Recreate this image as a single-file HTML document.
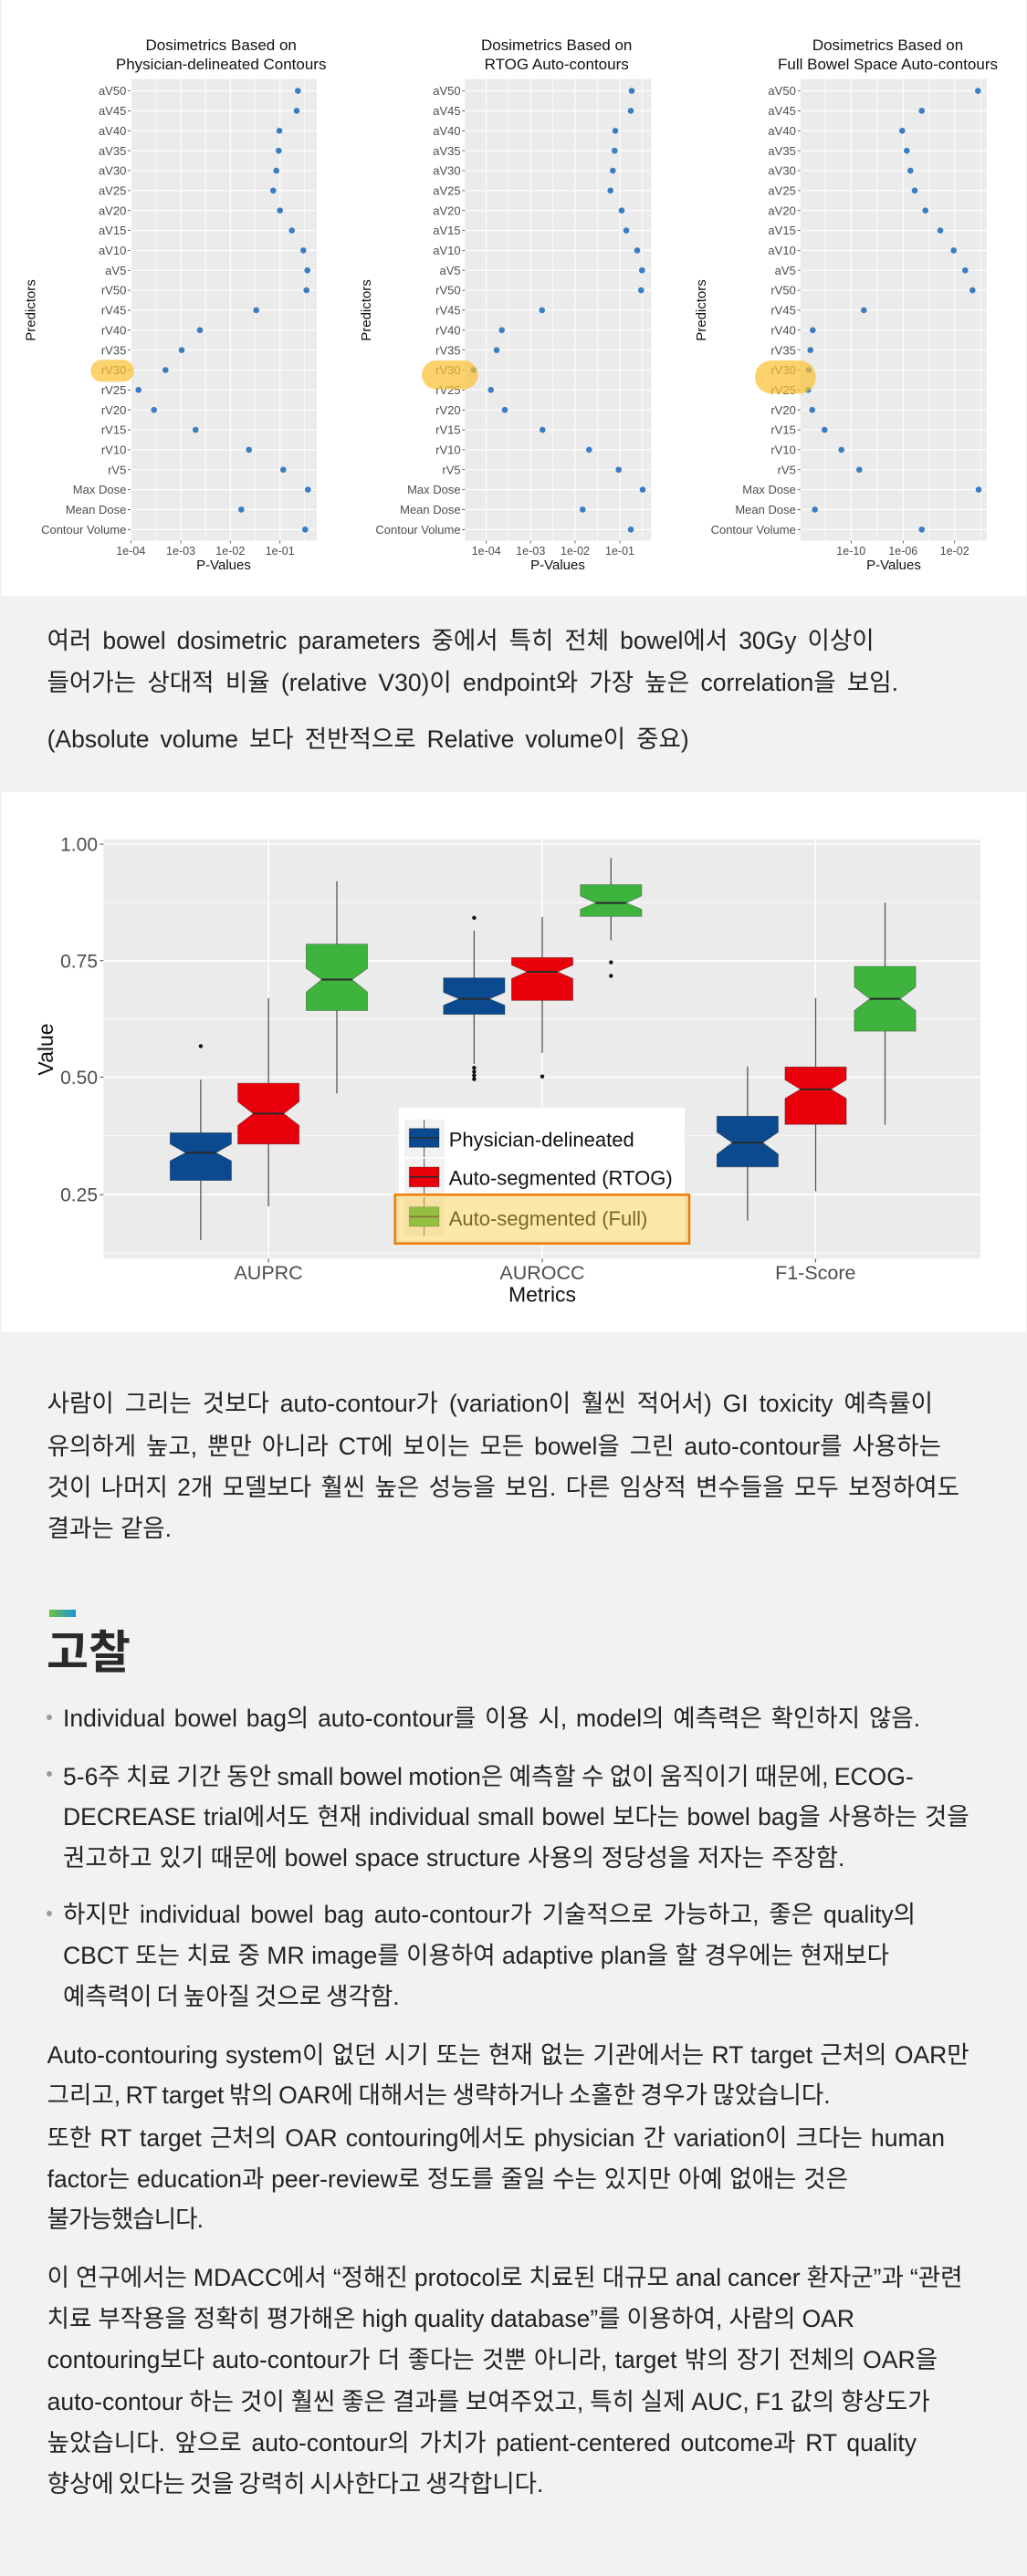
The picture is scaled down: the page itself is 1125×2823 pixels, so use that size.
<!DOCTYPE html>
<html><head><meta charset="utf-8"><style>
html,body{margin:0;padding:0}
body{width:1125px;height:2823px;background:#f2f2f2;position:relative;overflow:hidden;font-family:"Liberation Sans","Noto Sans CJK KR",sans-serif;color:#222}
.w{position:absolute;left:2px;width:1122px;background:#fff}
.ln{position:absolute;left:51.6px;height:30px;line-height:30px;font-size:26.5px;white-space:nowrap}
.ln span{word-spacing:0px}
.b{left:69px}
.dot{position:absolute;left:51.3px;width:6px;height:6px;border-radius:50%;background:#9a9a9a}
svg text{font-family:"Liberation Sans",Arial,sans-serif}
</style></head><body>
<div class="w" style="top:0;height:653px"></div>
<div class="w" style="top:868px;height:592px"></div>

<svg style="position:absolute;left:0;top:0" width="1125" height="1460" viewBox="0 0 1125 1460">
<g transform="translate(143,0)">
<rect x="0" y="86.5" width="204" height="506" fill="#ebebeb"/>
<path d="M27.7 86.5V592.5M82 86.5V592.5M136.3 86.5V592.5M190.3 86.5V592.5" stroke="#fff" stroke-width="0.6"/>
<path d="M0.3 86.5V592.5M55 86.5V592.5M109.3 86.5V592.5M163.7 86.5V592.5" stroke="#fff" stroke-width="1.1"/>
<path d="M0 99.6H204M0 121.45H204M0 143.3H204M0 165.15H204M0 187H204M0 208.85H204M0 230.7H204M0 252.55H204M0 274.4H204M0 296.25H204M0 318.1H204M0 339.95H204M0 361.8H204M0 383.65H204M0 405.5H204M0 427.35H204M0 449.2H204M0 471.05H204M0 492.9H204M0 514.75H204M0 536.6H204M0 558.45H204M0 580.3H204" stroke="#fff" stroke-width="1.1"/>
<path d="M-3 99.6H0M-3 121.45H0M-3 143.3H0M-3 165.15H0M-3 187H0M-3 208.85H0M-3 230.7H0M-3 252.55H0M-3 274.4H0M-3 296.25H0M-3 318.1H0M-3 339.95H0M-3 361.8H0M-3 383.65H0M-3 405.5H0M-3 427.35H0M-3 449.2H0M-3 471.05H0M-3 492.9H0M-3 514.75H0M-3 536.6H0M-3 558.45H0M-3 580.3H0M0.3 592.5V595.5M55 592.5V595.5M109.3 592.5V595.5M163.7 592.5V595.5" stroke="#444" stroke-width="0.8"/>
<text font-size="13" fill="#4d4d4d" text-anchor="end"><tspan x="-4.7" y="104.2">aV50</tspan><tspan x="-4.7" y="126.05">aV45</tspan><tspan x="-4.7" y="147.9">aV40</tspan><tspan x="-4.7" y="169.75">aV35</tspan><tspan x="-4.7" y="191.6">aV30</tspan><tspan x="-4.7" y="213.45">aV25</tspan><tspan x="-4.7" y="235.3">aV20</tspan><tspan x="-4.7" y="257.15">aV15</tspan><tspan x="-4.7" y="279">aV10</tspan><tspan x="-4.7" y="300.85">aV5</tspan><tspan x="-4.7" y="322.7">rV50</tspan><tspan x="-4.7" y="344.55">rV45</tspan><tspan x="-4.7" y="366.4">rV40</tspan><tspan x="-4.7" y="388.25">rV35</tspan><tspan x="-4.7" y="410.1">rV30</tspan><tspan x="-4.7" y="431.95">rV25</tspan><tspan x="-4.7" y="453.8">rV20</tspan><tspan x="-4.7" y="475.65">rV15</tspan><tspan x="-4.7" y="497.5">rV10</tspan><tspan x="-4.7" y="519.35">rV5</tspan><tspan x="-4.7" y="541.2">Max Dose</tspan><tspan x="-4.7" y="563.05">Mean Dose</tspan><tspan x="-4.7" y="584.9">Contour Volume</tspan></text>
<text font-size="12.5" fill="#4d4d4d" text-anchor="middle"><tspan x="0.3" y="607.8">1e-04</tspan><tspan x="55" y="607.8">1e-03</tspan><tspan x="109.3" y="607.8">1e-02</tspan><tspan x="163.7" y="607.8">1e-01</tspan></text>
</g>

<g transform="translate(509.3,0)">
<rect x="0" y="86.5" width="204" height="506" fill="#ebebeb"/>
<path d="M47.7 86.5V592.5M96.4 86.5V592.5M145.1 86.5V592.5M194.1 86.5V592.5" stroke="#fff" stroke-width="0.6"/>
<path d="M23.4 86.5V592.5M72 86.5V592.5M120.7 86.5V592.5M169.7 86.5V592.5" stroke="#fff" stroke-width="1.1"/>
<path d="M0 99.6H204M0 121.45H204M0 143.3H204M0 165.15H204M0 187H204M0 208.85H204M0 230.7H204M0 252.55H204M0 274.4H204M0 296.25H204M0 318.1H204M0 339.95H204M0 361.8H204M0 383.65H204M0 405.5H204M0 427.35H204M0 449.2H204M0 471.05H204M0 492.9H204M0 514.75H204M0 536.6H204M0 558.45H204M0 580.3H204" stroke="#fff" stroke-width="1.1"/>
<path d="M-3 99.6H0M-3 121.45H0M-3 143.3H0M-3 165.15H0M-3 187H0M-3 208.85H0M-3 230.7H0M-3 252.55H0M-3 274.4H0M-3 296.25H0M-3 318.1H0M-3 339.95H0M-3 361.8H0M-3 383.65H0M-3 405.5H0M-3 427.35H0M-3 449.2H0M-3 471.05H0M-3 492.9H0M-3 514.75H0M-3 536.6H0M-3 558.45H0M-3 580.3H0M23.4 592.5V595.5M72 592.5V595.5M120.7 592.5V595.5M169.7 592.5V595.5" stroke="#444" stroke-width="0.8"/>
<text font-size="13" fill="#4d4d4d" text-anchor="end"><tspan x="-4.7" y="104.2">aV50</tspan><tspan x="-4.7" y="126.05">aV45</tspan><tspan x="-4.7" y="147.9">aV40</tspan><tspan x="-4.7" y="169.75">aV35</tspan><tspan x="-4.7" y="191.6">aV30</tspan><tspan x="-4.7" y="213.45">aV25</tspan><tspan x="-4.7" y="235.3">aV20</tspan><tspan x="-4.7" y="257.15">aV15</tspan><tspan x="-4.7" y="279">aV10</tspan><tspan x="-4.7" y="300.85">aV5</tspan><tspan x="-4.7" y="322.7">rV50</tspan><tspan x="-4.7" y="344.55">rV45</tspan><tspan x="-4.7" y="366.4">rV40</tspan><tspan x="-4.7" y="388.25">rV35</tspan><tspan x="-4.7" y="410.1">rV30</tspan><tspan x="-4.7" y="431.95">rV25</tspan><tspan x="-4.7" y="453.8">rV20</tspan><tspan x="-4.7" y="475.65">rV15</tspan><tspan x="-4.7" y="497.5">rV10</tspan><tspan x="-4.7" y="519.35">rV5</tspan><tspan x="-4.7" y="541.2">Max Dose</tspan><tspan x="-4.7" y="563.05">Mean Dose</tspan><tspan x="-4.7" y="584.9">Contour Volume</tspan></text>
<text font-size="12.5" fill="#4d4d4d" text-anchor="middle"><tspan x="23.4" y="607.8">1e-04</tspan><tspan x="72" y="607.8">1e-03</tspan><tspan x="120.7" y="607.8">1e-02</tspan><tspan x="169.7" y="607.8">1e-01</tspan></text>
</g>

<g transform="translate(876.7,0)">
<rect x="0" y="86.5" width="204.3" height="506" fill="#ebebeb"/>
<path d="M27.3 86.5V592.5M84.3 86.5V592.5M141 86.5V592.5M197.6 86.5V592.5" stroke="#fff" stroke-width="0.6"/>
<path d="M55.6 86.5V592.5M112.6 86.5V592.5M169 86.5V592.5" stroke="#fff" stroke-width="1.1"/>
<path d="M0 99.6H204M0 121.45H204M0 143.3H204M0 165.15H204M0 187H204M0 208.85H204M0 230.7H204M0 252.55H204M0 274.4H204M0 296.25H204M0 318.1H204M0 339.95H204M0 361.8H204M0 383.65H204M0 405.5H204M0 427.35H204M0 449.2H204M0 471.05H204M0 492.9H204M0 514.75H204M0 536.6H204M0 558.45H204M0 580.3H204" stroke="#fff" stroke-width="1.1"/>
<path d="M-3 99.6H0M-3 121.45H0M-3 143.3H0M-3 165.15H0M-3 187H0M-3 208.85H0M-3 230.7H0M-3 252.55H0M-3 274.4H0M-3 296.25H0M-3 318.1H0M-3 339.95H0M-3 361.8H0M-3 383.65H0M-3 405.5H0M-3 427.35H0M-3 449.2H0M-3 471.05H0M-3 492.9H0M-3 514.75H0M-3 536.6H0M-3 558.45H0M-3 580.3H0M55.6 592.5V595.5M112.6 592.5V595.5M169 592.5V595.5" stroke="#444" stroke-width="0.8"/>
<text font-size="13" fill="#4d4d4d" text-anchor="end"><tspan x="-4.9" y="104.2">aV50</tspan><tspan x="-4.9" y="126.05">aV45</tspan><tspan x="-4.9" y="147.9">aV40</tspan><tspan x="-4.9" y="169.75">aV35</tspan><tspan x="-4.9" y="191.6">aV30</tspan><tspan x="-4.9" y="213.45">aV25</tspan><tspan x="-4.9" y="235.3">aV20</tspan><tspan x="-4.9" y="257.15">aV15</tspan><tspan x="-4.9" y="279">aV10</tspan><tspan x="-4.9" y="300.85">aV5</tspan><tspan x="-4.9" y="322.7">rV50</tspan><tspan x="-4.9" y="344.55">rV45</tspan><tspan x="-4.9" y="366.4">rV40</tspan><tspan x="-4.9" y="388.25">rV35</tspan><tspan x="-4.9" y="410.1">rV30</tspan><tspan x="-4.9" y="431.95">rV25</tspan><tspan x="-4.9" y="453.8">rV20</tspan><tspan x="-4.9" y="475.65">rV15</tspan><tspan x="-4.9" y="497.5">rV10</tspan><tspan x="-4.9" y="519.35">rV5</tspan><tspan x="-4.9" y="541.2">Max Dose</tspan><tspan x="-4.9" y="563.05">Mean Dose</tspan><tspan x="-4.9" y="584.9">Contour Volume</tspan></text>
<text font-size="12.5" fill="#4d4d4d" text-anchor="middle"><tspan x="55.6" y="607.8">1e-10</tspan><tspan x="112.6" y="607.8">1e-06</tspan><tspan x="169" y="607.8">1e-02</tspan></text>
</g>

<g font-size="17" fill="#111" text-anchor="middle">
<text x="242.2" y="55">Dosimetrics Based on</text><text x="242.2" y="76.2">Physician-delineated Contours</text>
<text x="609.7" y="55">Dosimetrics Based on</text><text x="609.7" y="76.2">RTOG Auto-contours</text>
<text x="972.5" y="55">Dosimetrics Based on</text><text x="972.5" y="76.2">Full Bowel Space Auto-contours</text>
</g>
<g font-size="15" fill="#111" text-anchor="middle">
<text x="245" y="623.8">P-Values</text><text x="611" y="623.8">P-Values</text><text x="979" y="623.8">P-Values</text>
<text transform="translate(38.5,340) rotate(-90)" x="0" y="0">Predictors</text>
<text transform="translate(405.9,340) rotate(-90)" x="0" y="0">Predictors</text>
<text transform="translate(772.9,340) rotate(-90)" x="0" y="0">Predictors</text>
</g>

<g fill="#3a7dc0">
<circle cx="326.3" cy="99.6" r="3.3"/><circle cx="325" cy="121.45" r="3.3"/><circle cx="306" cy="143.3" r="3.3"/><circle cx="305.3" cy="165.15" r="3.3"/><circle cx="302.7" cy="187" r="3.3"/><circle cx="299.3" cy="208.85" r="3.3"/><circle cx="306.7" cy="230.7" r="3.3"/><circle cx="319.7" cy="252.55" r="3.3"/><circle cx="332.3" cy="274.4" r="3.3"/><circle cx="336.7" cy="296.25" r="3.3"/><circle cx="335.7" cy="318.1" r="3.3"/><circle cx="280.7" cy="339.95" r="3.3"/><circle cx="219" cy="361.8" r="3.3"/><circle cx="199" cy="383.65" r="3.3"/><circle cx="181.3" cy="405.5" r="3.3"/><circle cx="151.7" cy="427.35" r="3.3"/><circle cx="168.7" cy="449.2" r="3.3"/><circle cx="214.3" cy="471.05" r="3.3"/><circle cx="272.7" cy="492.9" r="3.3"/><circle cx="310.3" cy="514.75" r="3.3"/><circle cx="337.3" cy="536.6" r="3.3"/><circle cx="264.3" cy="558.45" r="3.3"/><circle cx="334.3" cy="580.3" r="3.3"/>
<circle cx="692" cy="99.6" r="3.3"/><circle cx="691" cy="121.45" r="3.3"/><circle cx="674" cy="143.3" r="3.3"/><circle cx="673.3" cy="165.15" r="3.3"/><circle cx="671.3" cy="187" r="3.3"/><circle cx="668.7" cy="208.85" r="3.3"/><circle cx="681" cy="230.7" r="3.3"/><circle cx="686" cy="252.55" r="3.3"/><circle cx="698" cy="274.4" r="3.3"/><circle cx="703.3" cy="296.25" r="3.3"/><circle cx="702.3" cy="318.1" r="3.3"/><circle cx="593.7" cy="339.95" r="3.3"/><circle cx="549.7" cy="361.8" r="3.3"/><circle cx="544" cy="383.65" r="3.3"/><circle cx="518.7" cy="405.5" r="3.3"/><circle cx="537.7" cy="427.35" r="3.3"/><circle cx="553" cy="449.2" r="3.3"/><circle cx="594.3" cy="471.05" r="3.3"/><circle cx="645.3" cy="492.9" r="3.3"/><circle cx="677.7" cy="514.75" r="3.3"/><circle cx="704" cy="536.6" r="3.3"/><circle cx="638.3" cy="558.45" r="3.3"/><circle cx="691" cy="580.3" r="3.3"/>
<circle cx="1071.3" cy="99.6" r="3.3"/><circle cx="1009.7" cy="121.45" r="3.3"/><circle cx="988.3" cy="143.3" r="3.3"/><circle cx="993.3" cy="165.15" r="3.3"/><circle cx="997.3" cy="187" r="3.3"/><circle cx="1002" cy="208.85" r="3.3"/><circle cx="1013.7" cy="230.7" r="3.3"/><circle cx="1030" cy="252.55" r="3.3"/><circle cx="1044.7" cy="274.4" r="3.3"/><circle cx="1057.3" cy="296.25" r="3.3"/><circle cx="1065.3" cy="318.1" r="3.3"/><circle cx="946.3" cy="339.95" r="3.3"/><circle cx="890.3" cy="361.8" r="3.3"/><circle cx="887.7" cy="383.65" r="3.3"/><circle cx="886" cy="405.5" r="3.3"/><circle cx="885.3" cy="427.35" r="3.3"/><circle cx="889.7" cy="449.2" r="3.3"/><circle cx="903.3" cy="471.05" r="3.3"/><circle cx="921.7" cy="492.9" r="3.3"/><circle cx="941.3" cy="514.75" r="3.3"/><circle cx="1072" cy="536.6" r="3.3"/><circle cx="892.7" cy="558.45" r="3.3"/><circle cx="1009.7" cy="580.3" r="3.3"/>
</g>
<g fill="rgba(250,192,50,0.72)">
<rect x="99.3" y="394.3" width="47.4" height="24.1" rx="12" ry="12"/>
<rect x="462" y="395.1" width="61.7" height="31.4" rx="15.7" ry="15.7"/>
<rect x="827" y="395.1" width="66.7" height="36.3" rx="18" ry="18"/>
</g>

<rect x="113.3" y="920" width="960.6" height="459.4" fill="#ebebeb"/>
<path d="M113.3 988.95H1073.9M113.3 1116.6H1073.9M113.3 1244.8H1073.9M113.3 1373.2H1073.9" stroke="#fff" stroke-width="0.8"/>
<path d="M113.3 925.1H1073.9M113.3 1052.8H1073.9M113.3 1180.4H1073.9M113.3 1309.2H1073.9M294.1 920V1379.4M594 920V1379.4M893.3 920V1379.4" stroke="#fff" stroke-width="1.6"/>
<path d="M109.5 925.1H113.3M109.5 1052.8H113.3M109.5 1180.4H113.3M109.5 1309.2H113.3M294.1 1379.4V1383.4M594 1379.4V1383.4M893.3 1379.4V1383.4" stroke="#444" stroke-width="1"/>
<g font-size="21" fill="#4d4d4d" text-anchor="end"><text x="107" y="932.6">1.00</text><text x="107" y="1060.3">0.75</text><text x="107" y="1187.9">0.50</text><text x="107" y="1316.7">0.25</text></g>
<g font-size="21.5" fill="#4d4d4d" text-anchor="middle"><text x="294.1" y="1402">AUPRC</text><text x="594" y="1402">AUROCC</text><text x="893.3" y="1402">F1-Score</text></g>
<text x="594" y="1426.5" font-size="23" fill="#111" text-anchor="middle">Metrics</text>
<text transform="translate(58,1150) rotate(-90)" font-size="23" fill="#111" text-anchor="middle">Value</text>

<path d="M219.9 1241.4V1183.4M219.9 1293.6V1359.1M294.1 1187.1V1093.8M294.1 1253.7V1322.1M369 1034.6V965.8M369 1107.5V1198.2M519.4 1071.6V1019.8M519.4 1111.6V1166M594 1049.4V1005M594 1096.4V1153.8M669.3 969.5V940.3M669.3 1004.3V1030.6M818.9 1223.3V1168.6M818.9 1278.8V1337.6M893.5 1169.3V1093.8M893.5 1232.2V1305.5M969.5 1059.1V989.1M969.5 1130.1V1232.6" stroke="#555" stroke-width="1.3"/>
<g stroke="rgba(0,0,0,0.35)" stroke-width="0.8">
<path fill="#0b4a8e" d="M186.3,1241.4H253.5V1253.7L236.7,1263.3L253.5,1272.2V1293.6H186.3V1272.2L203.1,1263.3L186.3,1253.7Z"/>
<path fill="#e8000b" d="M260.5,1187.1H327.7V1207.4L310.9,1220.4L327.7,1233.3V1253.7H260.5V1233.3L277.3,1220.4L260.5,1207.4Z"/>
<path fill="#3eb43e" d="M335.4,1034.6H402.6V1061.3L385.8,1073.5L402.6,1087.2V1107.5H335.4V1087.2L352.2,1073.5L335.4,1061.3Z"/>
<path fill="#0b4a8e" d="M485.8,1071.6H553V1087.5L536.2,1094.6L553,1101.7V1111.6H485.8V1101.7L502.6,1094.6L485.8,1087.5Z"/>
<path fill="#e8000b" d="M560.4,1049.4H627.6V1057.6L610.8,1065L627.6,1072.4V1096.4H560.4V1072.4L577.2,1065L560.4,1057.6Z"/>
<path fill="#3eb43e" d="M635.7,969.5H702.9V981.7L686.1,989.5L702.9,996.5V1004.3H635.7V996.5L652.5,989.5L635.7,981.7Z"/>
<path fill="#0b4a8e" d="M785.3,1223.3H852.5V1240.7L835.7,1252.2L852.5,1264.8V1278.8H785.3V1264.8L802.1,1252.2L785.3,1240.7Z"/>
<path fill="#e8000b" d="M859.9,1169.3H927.1V1183.4L910.3,1193.7L927.1,1203.7V1232.2H859.9V1203.7L876.7,1193.7L859.9,1183.4Z"/>
<path fill="#3eb43e" d="M935.9,1059.1H1003.1V1081.6L986.3,1094.6L1003.1,1107.5V1130.1H935.9V1107.5L952.7,1094.6L935.9,1081.6Z"/>
</g>
<path d="M203.1 1263.3H236.7M277.3 1220.4H310.9M352.2 1073.5H385.8M502.6 1094.6H536.2M577.2 1065H610.8M652.5 989.5H686.1M802.1 1252.2H835.7M876.7 1193.7H910.3M952.7 1094.6H986.3" stroke="#2a2a2a" stroke-width="2"/>
<g fill="#111">
<circle cx="219.9" cy="1146.4" r="2.2"/>
<circle cx="519.4" cy="1005.8" r="2.2"/><circle cx="519.4" cy="1170.2" r="2.2"/><circle cx="519.4" cy="1174.5" r="2.2"/><circle cx="519.4" cy="1178.6" r="2.2"/><circle cx="519.4" cy="1182.6" r="2.2"/>
<circle cx="594" cy="1179.7" r="2.2"/>
<circle cx="669.3" cy="1054.6" r="2.2"/><circle cx="669.3" cy="1069.4" r="2.2"/>
</g>

<rect x="436.7" y="1214" width="313.3" height="146" fill="#fff"/>
<rect x="443" y="1227" width="44" height="41" fill="#f2f2f2"/>
<rect x="443" y="1269.5" width="44" height="41" fill="#f2f2f2"/>
<rect x="443" y="1312" width="44" height="42" fill="#f2f2f2"/>
<path d="M464.6 1227V1268M464.6 1269.5V1310.5M464.6 1312V1354" stroke="#555" stroke-width="1"/>
<g stroke="rgba(0,0,0,0.35)" stroke-width="0.8">
<rect x="448.3" y="1236.7" width="32.7" height="20.6" fill="#0b4a8e"/>
<rect x="448.3" y="1279" width="32.7" height="21.7" fill="#e8000b"/>
<rect x="448.3" y="1322.7" width="32.7" height="21.3" fill="#3eb43e"/>
</g>
<path d="M448.3 1247H481M448.3 1289.8H481M448.3 1333.3H481" stroke="#2a2a2a" stroke-width="1.6"/>
<g font-size="22" fill="#111"><text x="491.7" y="1256.3">Physician-delineated</text><text x="491.7" y="1298.7">Auto-segmented (RTOG)</text><text x="491.7" y="1343">Auto-segmented (Full)</text></g>
<rect x="432.7" y="1309.3" width="322.3" height="53.4" fill="rgba(250,205,70,0.45)" stroke="#f07a00" stroke-width="2.5"/>
</svg>

<div class="ln" style="top:686.7px"><span>여러 bowel dosimetric parameters 중에서 특히 전체 bowel에서 30Gy 이상이</span></div>
<div class="ln" style="top:733.3px"><span>들어가는 상대적 비율 (relative V30)이 endpoint와 가장 높은 correlation을 보임.</span></div>
<div class="ln" style="top:795px"><span>(Absolute volume 보다 전반적으로 Relative volume이 중요)</span></div>

<div class="ln" style="top:1523.3px"><span>사람이 그리는 것보다 auto-contour가 (variation이 훨씬 적어서) GI toxicity 예측률이</span></div>
<div class="ln" style="top:1570px"><span>유의하게 높고, 뿐만 아니라 CT에 보이는 모든 bowel을 그린 auto-contour를 사용하는</span></div>
<div class="ln" style="top:1615px"><span>것이 나머지 2개 모델보다 훨씬 높은 성능을 보임. 다른 임상적 변수들을 모두 보정하여도</span></div>
<div class="ln" style="top:1660px"><span>결과는 같음.</span></div>

<div style="position:absolute;left:54px;top:1764px;width:29px;height:8px;background:linear-gradient(90deg,#72c043,#1a93dc)"></div>
<div style="position:absolute;left:51px;top:1781px;height:60px;line-height:60px;font-size:50px;font-weight:bold;color:#2a2a2a;white-space:nowrap">고찰</div>

<div class="dot" style="top:1878.5px"></div>
<div class="ln b" style="top:1868.3px"><span>Individual bowel bag의 auto-contour를 이용 시, model의 예측력은 확인하지 않음.</span></div>

<div class="dot" style="top:1941px"></div>
<div class="ln b" style="top:1931.7px"><span>5-6주 치료 기간 동안 small bowel motion은 예측할 수 없이 움직이기 때문에, ECOG-</span></div>
<div class="ln b" style="top:1975.7px"><span>DECREASE trial에서도 현재 individual small bowel 보다는 bowel bag을 사용하는 것을</span></div>
<div class="ln b" style="top:2021px"><span>권고하고 있기 때문에 bowel space structure 사용의 정당성을 저자는 주장함.</span></div>

<div class="dot" style="top:2093.5px"></div>
<div class="ln b" style="top:2083.3px"><span>하지만 individual bowel bag auto-contour가 기술적으로 가능하고, 좋은 quality의</span></div>
<div class="ln b" style="top:2128.3px"><span>CBCT 또는 치료 중 MR image를 이용하여 adaptive plan을 할 경우에는 현재보다</span></div>
<div class="ln b" style="top:2173.3px"><span>예측력이 더 높아질 것으로 생각함.</span></div>

<div class="ln" style="top:2236.7px"><span>Auto-contouring system이 없던 시기 또는 현재 없는 기관에서는 RT target 근처의 OAR만</span></div>
<div class="ln" style="top:2281.3px"><span>그리고, RT target 밖의 OAR에 대해서는 생략하거나 소홀한 경우가 많았습니다.</span></div>
<div class="ln" style="top:2328.4px"><span>또한 RT target 근처의 OAR contouring에서도 physician 간 variation이 크다는 human</span></div>
<div class="ln" style="top:2373px"><span>factor는 education과 peer-review로 정도를 줄일 수는 있지만 아예 없애는 것은</span></div>
<div class="ln" style="top:2417.4px"><span>불가능했습니다.</span></div>

<div class="ln" style="top:2481.4px"><span>이 연구에서는 MDACC에서 “정해진 protocol로 치료된 대규모 anal cancer 환자군”과 “관련</span></div>
<div class="ln" style="top:2526.4px"><span>치료 부작용을 정확히 평가해온 high quality database”를 이용하여, 사람의 OAR</span></div>
<div class="ln" style="top:2571.4px"><span>contouring보다 auto-contour가 더 좋다는 것뿐 아니라, target 밖의 장기 전체의 OAR을</span></div>
<div class="ln" style="top:2616.5px"><span>auto-contour 하는 것이 훨씬 좋은 결과를 보여주었고, 특히 실제 AUC, F1 값의 향상도가</span></div>
<div class="ln" style="top:2661.5px"><span>높았습니다. 앞으로 auto-contour의 가치가 patient-centered outcome과 RT quality</span></div>
<div class="ln" style="top:2706.5px"><span>향상에 있다는 것을 강력히 시사한다고 생각합니다.</span></div>

<script>
(function(){
var T=[957.7,984,754.7,1022,1031,1051,188,1008,1000.7,1061.7,925.4,1003,974,437.6,1061.7,909.6,1035,929,222,1054.5,936,1027,1018.7,1004,595.4];
function fit(){
  var s=document.querySelectorAll('.ln span');
  for(var i=0;i<s.length&&i<T.length;i++){
    var e=s[i];e.style.wordSpacing='0px';e.style.letterSpacing='0px';
    var r=e.getBoundingClientRect();var d=T[i]-r.right;
    var n=(e.textContent.match(/ /g)||[]).length;
    if(n>=2){var x=d/n;x=Math.max(-4,Math.min(12,x));e.style.wordSpacing=x+'px';}
    else{var c=e.textContent.length;var l=d/c;l=Math.max(-1.5,Math.min(3,l));e.style.letterSpacing=l+'px';}
  }
}
fit();
if(document.fonts&&document.fonts.ready){document.fonts.ready.then(fit);}
window.addEventListener('load',fit);
})();
</script>
</body></html>
